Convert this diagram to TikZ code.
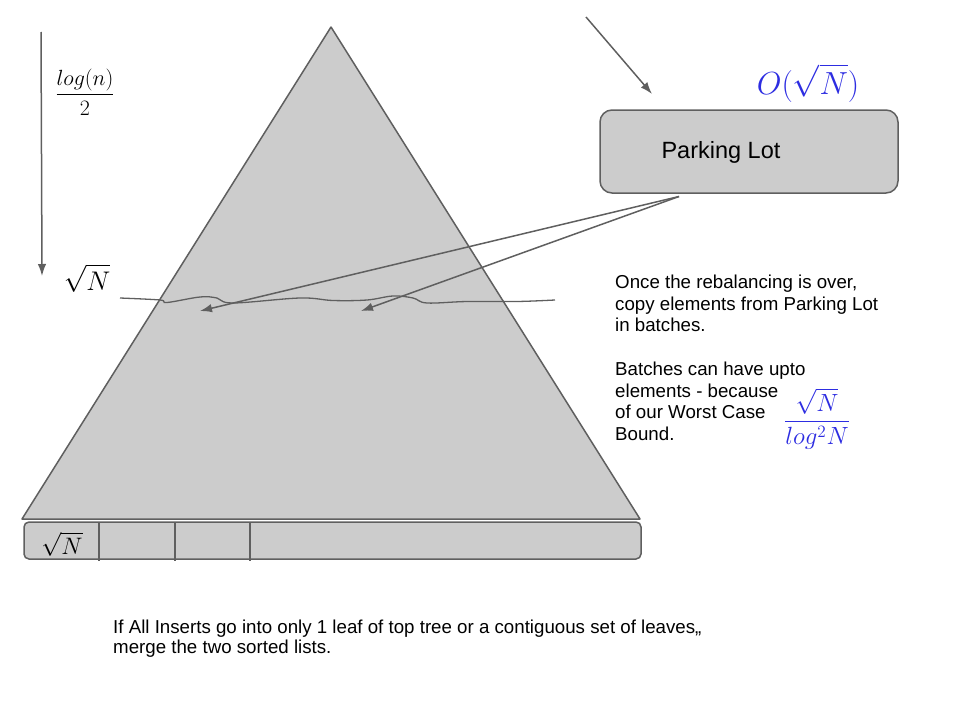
\documentclass[tikz,border=0pt]{standalone}
\usepackage{graphicx}
\usepackage[no-math]{fontspec}
\setmainfont{Liberation Sans}
\usetikzlibrary{arrows.meta}
\definecolor{treegray}{RGB}{204,204,204}
\definecolor{linegray}{RGB}{95,95,95}
\definecolor{eqblue}{RGB}{45,45,225}
\newcommand{\bigmath}[2]{\scalebox{#1}{\fontsize{20.74}{25}\selectfont $\displaystyle #2$}}
\tikzset{
  edge/.style={draw=linegray, line width=1.5pt},
  arr/.style={edge, -{Latex[length=12pt,width=8.5pt]}},
  eq/.style={text=eqblue, inner sep=0pt},
  note/.style={align=left, inner sep=0pt, anchor=north west}
}
\begin{document}
\begin{tikzpicture}[x=1pt, y=-1pt]
    \useasboundingbox (0,0) rectangle (960,720);
    % the tree
    \coordinate (apex) at (331,27);
    \coordinate (bl) at (22,519);
    \coordinate (br) at (640,519);
    \filldraw [edge, fill=treegray, line join=round] (apex) -- (bl) -- (br) -- cycle;
    % leaf level
    \filldraw [edge, fill=treegray, rounded corners=5pt] (24,522) rectangle (641,559);
    \foreach \x in {99,175,250}
      \draw [edge] (\x,522) -- (\x,561);
    \node (cell) at (62,544) {\bigmath{1.15}{\sqrt{N}}};
    % height arrow
    \coordinate (htop) at (41,32);
    \coordinate (hbot) at (42,276);
    \draw [arr] (htop) -- (hbot);
    \node (height) at (85,92) {\bigmath{1.06}{\frac{log(n)}{2}}};
    \node (level) at (87,278) {\bigmath{1.3}{\sqrt{N}}};
    % cut line
    \draw [edge, line width=1.3pt] plot [smooth, tension=0.6] coordinates {(120,298) (160,300) (167,302.5) (200,297) (217,298) (233,303) (300,298) (333,300.5) (367,300) (393,296) (413,298) (427,303) (467,301.5) (517,301.5) (555,300)};
    % parking lot
    \node (lot) [edge, fill=treegray, rounded corners=12pt, minimum width=298pt, minimum height=83pt] at (749,151.5) {};
    \node (lotlabel) at (721,152) {\fontsize{23.5}{28}\selectfont Parking Lot};
    \node (lotsize) [eq] at (808,83) {\bigmath{1.54}{O(\sqrt{N})}};
    \coordinate (in) at (586,17);
    \coordinate (intip) at (652,94);
    \draw [arr] (in) -- (intip);
    \coordinate (out) at (679,196.5);
    \coordinate (leftdrop) at (200,311);
    \coordinate (rightdrop) at (361,311);
    \draw [arr] (out) -- (leftdrop);
    \draw [arr] (out) -- (rightdrop);
    % notes
    \node (batches) [note, font=\fontsize{18.7}{21.5}\selectfont] at (615,275) {%
      Once the rebalancing is over,\\
      copy elements from Parking Lot\\
      in batches.\\[22.5pt]
      Batches can have upto\\
      elements - because\\
      of our Worst Case\\
      Bound.};
    \node (batchsize) [eq] at (817,419) {\bigmath{1.2}{\frac{\sqrt{N}}{log^2N}}};
    \node (merge) [note, font=\fontsize{18.7}{20}\selectfont] at (113,620) {%
      If All Inserts go into only 1 leaf of top tree or a contiguous set of leaves,,\\
      merge the two sorted lists.};
\end{tikzpicture}
\end{document}
